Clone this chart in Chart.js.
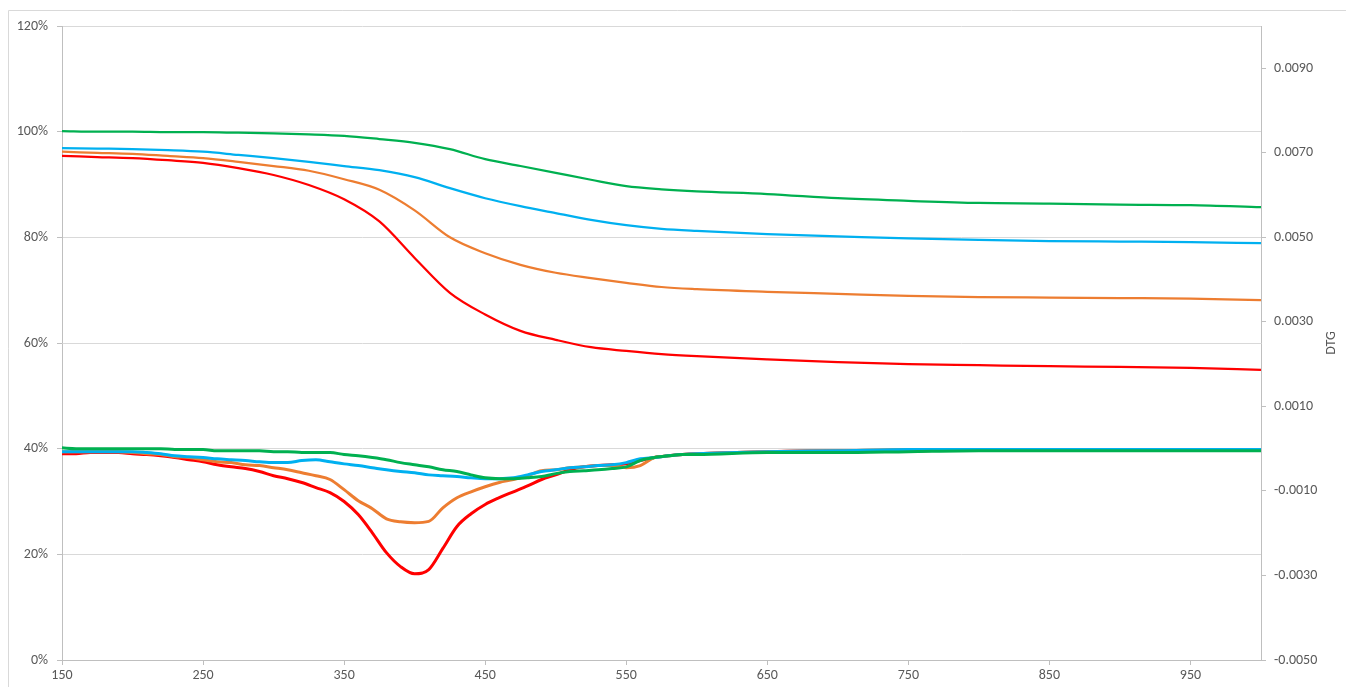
<!DOCTYPE html>
<html>
<head>
<meta charset="utf-8">
<script src="https://cdn.jsdelivr.net/npm/chart.js@4/dist/chart.umd.min.js"></script>
<style>
  html, body { margin: 0; padding: 0; background: #ffffff; }
  #wrap { position: relative; width: 1346px; height: 687px; }
</style>
</head>
<body>
<div id="wrap"><canvas id="chart"></canvas></div>
<script>
// Temperatures (x) for the mass curves and for the derivative curves
const tgTemps = [150,175,200,225,250,275,300,325,350,375,400,425,450,475,500,525,550,575,600,650,700,750,800,850,900,950,1000];
const dtgTemps = [150,160,170,180,190,200,210,220,230,240,250,260,270,280,290,300,310,320,330,340,350,360,370,380,390,400,410,420,430,440,450,460,470,480,490,500,510,520,530,540,550,560,570,580,590,600,650,700,750,800,850,900,950,1000];

// Residual mass, % (left axis)
const tgGreen  = [100.1,100.0,100.0,99.9,99.9,99.8,99.7,99.5,99.2,98.6,97.9,96.7,94.8,93.5,92.2,90.9,89.7,89.1,88.7,88.2,87.4,86.9,86.5,86.4,86.2,86.1,85.7];
const tgBlue   = [96.9,96.8,96.7,96.5,96.2,95.6,95.0,94.3,93.5,92.7,91.4,89.3,87.4,85.9,84.6,83.3,82.3,81.6,81.2,80.6,80.2,79.8,79.5,79.3,79.2,79.1,78.9];
const tgOrange = [96.2,96.0,95.8,95.4,95.0,94.3,93.5,92.6,91.0,89.0,85.1,80.0,77.0,74.8,73.3,72.3,71.4,70.6,70.2,69.7,69.3,68.9,68.7,68.6,68.5,68.4,68.1];
const tgRed    = [95.4,95.2,95.0,94.6,94.1,93.1,91.8,89.9,87.2,83.0,76.1,69.5,65.4,62.3,60.6,59.2,58.5,57.9,57.5,56.9,56.4,56.0,55.8,55.6,55.5,55.3,54.9];

// Derivative of mass (right axis, DTG)
const dtgRed = [-0.00012,-0.00012,-0.00009,-0.00009,-0.00009,-0.00012,-0.00014,-0.00017,-0.00021,-0.00026,
  -0.00031,-0.00038,-0.00043,-0.00047,-0.00054,-0.00064,-0.00071,-0.00080,-0.00092,-0.00104,
  -0.00125,-0.00156,-0.00199,-0.00246,-0.00279,-0.00296,-0.00286,-0.00236,-0.00184,-0.00154,
  -0.00132,-0.00116,-0.00102,-0.00088,-0.00073,-0.00062,-0.00050,-0.00043,-0.00040,-0.00038,
  -0.00036,-0.00028,-0.00021,-0.00017,-0.00014,-0.00012,-0.00007,-0.00005,-0.00005,-0.00002,
  -0.00002,-0.00002,-0.00002,-0.00002];
const dtgOrange = [-0.00007,-0.00007,-0.00007,-0.00007,-0.00007,-0.00009,-0.00012,-0.00014,-0.00019,-0.00021,
  -0.00026,-0.00031,-0.00033,-0.00038,-0.00040,-0.00045,-0.00050,-0.00057,-0.00064,-0.00073,
  -0.00097,-0.00123,-0.00142,-0.00166,-0.00173,-0.00175,-0.00172,-0.00140,-0.00116,-0.00102,
  -0.00090,-0.00080,-0.00073,-0.00064,-0.00052,-0.00050,-0.00045,-0.00043,-0.00040,-0.00040,
  -0.00045,-0.00040,-0.00021,-0.00017,-0.00014,-0.00012,-0.00007,-0.00005,-0.00002,-0.00002,
  -0.00002,-0.00002,-0.00002,-0.00002];
const dtgBlue = [-0.00007,-0.00007,-0.00007,-0.00007,-0.00007,-0.00007,-0.00009,-0.00012,-0.00017,-0.00019,
  -0.00021,-0.00024,-0.00026,-0.00028,-0.00031,-0.00033,-0.00033,-0.00028,-0.00026,-0.00031,
  -0.00036,-0.00040,-0.00045,-0.00050,-0.00054,-0.00057,-0.00062,-0.00064,-0.00066,-0.00069,
  -0.00071,-0.00071,-0.00069,-0.00062,-0.00054,-0.00050,-0.00045,-0.00043,-0.00040,-0.00038,
  -0.00033,-0.00024,-0.00021,-0.00017,-0.00014,-0.00012,-0.00007,-0.00005,-0.00002,-0.00002,
  -0.00002,-0.00002,-0.00002,-0.00002];
const dtgGreen = [0.00002,0,0,0,0,0,0,0,-0.00002,-0.00002,
  -0.00002,-0.00005,-0.00005,-0.00005,-0.00005,-0.00007,-0.00007,-0.00009,-0.00009,-0.00009,
  -0.00014,-0.00017,-0.00021,-0.00026,-0.00033,-0.00038,-0.00043,-0.00050,-0.00054,-0.00062,
  -0.00069,-0.00071,-0.00071,-0.00069,-0.00066,-0.00059,-0.00054,-0.00052,-0.00050,-0.00047,
  -0.00043,-0.00028,-0.00021,-0.00017,-0.00014,-0.00014,-0.00009,-0.00009,-0.00007,-0.00005,
  -0.00005,-0.00005,-0.00005,-0.00005];

// Tick labels
const tempTicks = [150,250,350,450,550,650,750,850,950];
const pctTicks = [0,20,40,60,80,100,120];
const dtgTicks = [-0.005,-0.003,-0.001,0.001,0.003,0.005,0.007,0.009];

const GREEN = '#00b050', BLUE = '#00b0f0', ORANGE = '#ed7d31', RED = '#ff0000';
const TEXT = '#595959';
const FONT = { family: '"Carlito", "Open Sans", "Liberation Sans", sans-serif', size: 14 };

const pts = (xs, ys) => xs.map((x, i) => ({ x: x, y: ys[i] }));

function tgSet(label, ys, color, order) {
  return { label, data: pts(tgTemps, ys), yAxisID: 'y', borderColor: color, borderWidth: 2.25,
           pointRadius: 0, cubicInterpolationMode: 'monotone', order };
}
function dtgSet(label, ys, color, order) {
  return { label, data: pts(dtgTemps, ys), yAxisID: 'y2', borderColor: color, borderWidth: 3,
           pointRadius: 0, cubicInterpolationMode: 'monotone', order };
}

// Outer frame and rotated right-axis title
const framePlugin = {
  id: 'frame',
  afterDraw(chart) {
    const ctx = chart.ctx;
    ctx.save();
    ctx.strokeStyle = '#d9d9d9';
    ctx.lineWidth = 1;
    ctx.beginPath();
    ctx.moveTo(8.5, chart.height);
    ctx.lineTo(8.5, 10.5);
    ctx.lineTo(chart.width, 10.5);
    ctx.stroke();
    ctx.fillStyle = TEXT;
    ctx.font = FONT.size + 'px ' + FONT.family;
    ctx.textAlign = 'center';
    ctx.textBaseline = 'middle';
    const a = chart.chartArea;
    ctx.translate(1331, (a.top + a.bottom) / 2);
    ctx.rotate(-Math.PI / 2);
    ctx.fillText('DTG', 0, 0);
    ctx.restore();
  }
};

new Chart(document.getElementById('chart'), {
  type: 'line',
  data: {
    datasets: [
      tgSet('TG 1', tgRed, RED, 8),
      tgSet('TG 2', tgOrange, ORANGE, 7),
      tgSet('TG 3', tgBlue, BLUE, 6),
      tgSet('TG 4', tgGreen, GREEN, 5),
      dtgSet('DTG 1', dtgRed, RED, 4),
      dtgSet('DTG 2', dtgOrange, ORANGE, 3),
      dtgSet('DTG 3', dtgBlue, BLUE, 2),
      dtgSet('DTG 4', dtgGreen, GREEN, 1)
    ]
  },
  options: {
    responsive: true,
    maintainAspectRatio: false,
    animation: false,
    layout: { padding: { top: 26, left: 0, right: 0, bottom: 0 } },
    plugins: { legend: { display: false }, tooltip: { enabled: false } },
    scales: {
      x: {
        type: 'linear', min: 150, max: 1000,
        afterBuildTicks: s => { s.ticks = tempTicks.map(v => ({ value: v })); },
        afterFit: s => { s.height = 27; },
        ticks: { color: TEXT, font: FONT, padding: 2, maxRotation: 0, autoSkip: false },
        grid: { drawOnChartArea: false, drawTicks: true, tickLength: 5, color: '#bfbfbf' },
        border: { display: true, color: '#bfbfbf' }
      },
      y: {
        position: 'left', min: 0, max: 120,
        afterBuildTicks: s => { s.ticks = pctTicks.map(v => ({ value: v })); },
        afterFit: s => { s.width = 62; },
        ticks: { color: TEXT, font: FONT, padding: 9, callback: v => v + '%' },
        grid: { color: '#d9d9d9', tickColor: '#bfbfbf', tickLength: 5 },
        border: { display: true, color: '#bfbfbf' }
      },
      y2: {
        position: 'right', min: -0.005, max: 0.010,
        afterBuildTicks: s => { s.ticks = dtgTicks.map(v => ({ value: v })); },
        afterFit: s => { s.width = 85; },
        ticks: { color: TEXT, font: FONT, padding: 8, callback: v => v.toFixed(4) },
        grid: { drawOnChartArea: false, tickLength: 5, color: '#bfbfbf' },
        border: { display: true, color: '#bfbfbf' }
      }
    }
  },
  plugins: [framePlugin]
});
</script>
</body>
</html>
